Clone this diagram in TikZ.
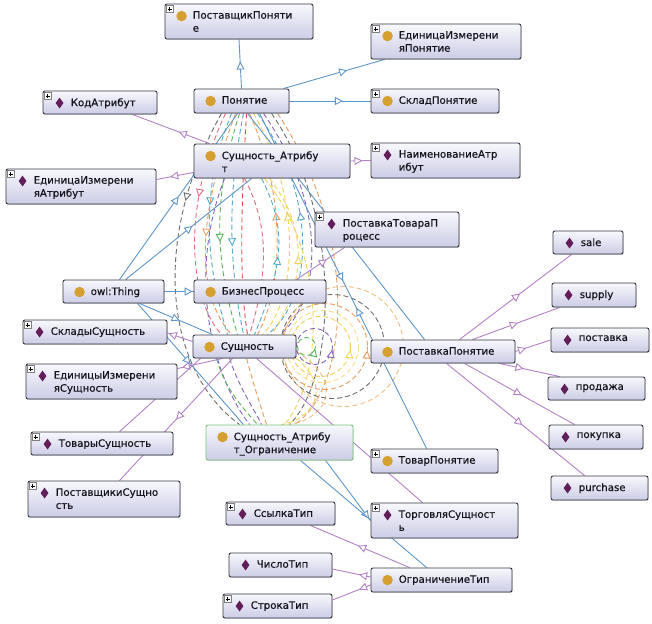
\documentclass[tikz,border=0pt]{standalone}
\usepackage{fontspec}
\setmainfont{DejaVu Sans}
\newfontfamily\lblfont{DejaVu Sans}[FakeBold=0.5]
\usetikzlibrary{arrows.meta,calc,shapes.geometric,shadows,decorations.markings}
\pgfdeclarelayer{bg}
\pgfsetlayers{bg,main}
\definecolor{bluec}{RGB}{95,150,200}
\definecolor{purpc}{RGB}{178,130,198}
\definecolor{nodeborder}{RGB}{55,55,68}
\definecolor{boxtop}{RGB}{248,248,253}
\definecolor{boxbot}{RGB}{204,204,230}
\definecolor{goldc}{RGB}{214,160,48}
\definecolor{diamc}{RGB}{98,30,88}
\definecolor{greenb}{RGB}{120,200,120}
\definecolor{textc}{RGB}{20,20,28}
\definecolor{dorange}{RGB}{235,155,95}
\definecolor{dyellow}{RGB}{240,210,90}
\definecolor{dgreen}{RGB}{90,180,90}
\definecolor{dpurple}{RGB}{130,100,190}
\definecolor{dgray}{RGB}{110,110,110}
\definecolor{dpink}{RGB}{230,110,130}
\definecolor{dteal}{RGB}{80,170,200}
\definecolor{dlorange}{RGB}{240,190,130}
\definecolor{dred}{RGB}{220,80,80}
\tikzset{
  box/.style={rectangle, rounded corners=2pt, draw=nodeborder, line width=0.9pt,
    top color=boxtop, bottom color=boxbot, inner sep=0pt,
    drop shadow={shadow xshift=0.7pt, shadow yshift=-0.9pt, opacity=0.35}},
  clsicon/.style={circle, fill=goldc, minimum size=10.5pt, inner sep=0pt},
  indicon/.style={diamond, fill=diamc, minimum width=8pt, minimum height=11pt, inner sep=0pt, aspect=0.72},
  lbl/.style={anchor=north west, inner sep=0pt, align=left, font=\lblfont\fontsize{10.2}{13}\selectfont, text=textc},
  plusbox/.style={rectangle, draw=gray, fill=white, line width=0.5pt, minimum size=7pt, inner sep=0pt,
    path picture={\draw[black, line width=0.6pt]
      ([xshift=-2pt]path picture bounding box.center) -- ([xshift=2pt]path picture bounding box.center)
      ([yshift=-2pt]path picture bounding box.center) -- ([yshift=2pt]path picture bounding box.center);}},
  bedge/.style={draw=bluec, line width=0.9pt},
  pedge/.style={draw=purpc, line width=0.9pt},
  dedge/.style={line width=0.9pt, dash pattern=on 5pt off 3pt},
  tri/.style={postaction={decorate, decoration={markings, mark=at position #1 with {\arrow{Triangle[length=8pt,width=8pt,fill=white]}}}}},
  trirev/.style={postaction={decorate, decoration={markings, mark=at position #1 with {\arrowreversed{Triangle[length=8pt,width=8pt,fill=white]}}}}},
}
% #1 name, #2 x1, #3 y1, #4 x2, #5 y2, #6 icon style, #7 plus flag, #8 text, #9 extra box style
\newcommand{\obox}[9]{%
  \pgfmathsetmacro{\oboxw}{#4-#2}%
  \pgfmathsetmacro{\oboxh}{#5-#3}%
  \node[box, minimum width=\oboxw pt, minimum height=\oboxh pt, #9] (#1) at ({(#2+#4)/2},{(#3+#5)/2}) {};
  \node[#6] (#1-i) at ($(#1.north west)+(17,12.5)$) {};
  \node[lbl] (#1-t) at ($(#1.north west)+(28,7.5)$) {#8};
  \ifnum#7=1 \node[plusbox] (#1-p) at ($(#1.north west)+(5,5.5)$) {};\fi
}
\begin{document}
\begin{tikzpicture}[x=1pt,y=-1pt]
\useasboundingbox (0,0) rectangle (652,623);
% ---------- nodes ----------
\obox{PP}{165}{4}{313}{39}{clsicon}{1}{ПоставщикПоняти\\е}{}
\obox{EIP}{371}{24}{521}{59}{clsicon}{1}{ЕдиницаИзмерени\\яПонятие}{}
\obox{Pon}{194}{89}{289}{113}{clsicon}{0}{Понятие}{}
\obox{Kod}{43}{91}{157}{114}{indicon}{1}{КодАтрибут}{}
\obox{Sklad}{371}{89}{499}{113}{clsicon}{1}{СкладПонятие}{}
\obox{SA}{194}{144}{350}{178}{clsicon}{0}{Сущность\_Атрибу\\т}{}
\obox{Naim}{371}{143}{520}{178}{indicon}{1}{НаименованиеАтр\\ибут}{}
\obox{EIA}{6}{169}{156}{204}{indicon}{1}{ЕдиницаИзмерени\\яАтрибут}{}
\obox{PTP}{315}{212}{459}{247}{indicon}{1}{ПоставкаТовараП\\роцесс}{}
\obox{Thing}{63}{280}{164}{303}{clsicon}{0}{owl:Thing}{}
\obox{BP}{194}{280}{326}{303}{clsicon}{0}{БизнесПроцесс}{}
\obox{Sklady}{23}{320}{167}{344}{indicon}{1}{СкладыСущность}{}
\obox{Sush}{193}{335}{296}{358}{clsicon}{0}{Сущность}{}
\obox{EIS}{26}{364}{177}{399}{indicon}{1}{ЕдиницыИзмерени\\яСущность}{}
\obox{PostP}{371}{340}{515}{363}{clsicon}{0}{ПоставкаПонятие}{}
\obox{sale}{553}{231}{623}{254}{indicon}{0}{sale}{}
\obox{supply}{552}{283}{636}{307}{indicon}{0}{supply}{}
\obox{postavka}{551}{328}{649}{352}{indicon}{0}{поставка}{}
\obox{prodazha}{548}{377}{645}{400}{indicon}{0}{продажа}{}
\obox{pokupka}{549}{425}{643}{449}{indicon}{0}{покупка}{}
\obox{purchase}{551}{476}{648}{500}{indicon}{0}{purchase}{}
\obox{Tovary}{31}{432}{173}{455}{indicon}{1}{ТоварыСущность}{}
\obox{SAO}{206}{425}{353}{460}{clsicon}{0}{Сущность\_Атрибу\\т\_Ограничение}{draw=greenb}
\obox{Postavshiki}{28}{481}{180}{517}{indicon}{1}{ПоставщикиСущно\\сть}{}
\obox{TovarP}{371}{449}{498}{473}{clsicon}{1}{ТоварПонятие}{}
\obox{Ssylka}{226}{502}{335}{525}{indicon}{1}{СсылкаТип}{}
\obox{Torg}{371}{503}{518}{538}{indicon}{1}{ТорговляСущност\\ь}{}
\obox{Chislo}{229}{553}{332}{577}{indicon}{0}{ЧислоТип}{}
\obox{OgrT}{371}{568}{512}{592}{clsicon}{0}{ОграничениеТип}{}
\obox{Stroka}{223}{594}{332}{618}{indicon}{1}{СтрокаТип}{}
% ---------- connectors ----------
\begin{pgfonlayer}{bg}
\fill[white] (0,0) rectangle (652,623);
% dashed relation curves
\draw[dedge, dgray, tri=0.28] ($(Pon.south west)+(28,0)$) .. controls (150,240) and (165,370) .. ($(SAO.north west)+(34,0)$);
\draw[dedge, dpink, tri=0.38] ($(Pon.south west)+(32,0)$) .. controls (180,210) and (190,300) .. ($(Sush.north west)+(29,0)$);
\draw[dedge, dteal, tri=0.42] ($(Pon.south west)+(38,0)$) .. controls (200,190) and (205,260) .. ($(Sush.north west)+(35,0)$);
\draw[dedge, dorange, tri=0.55] ($(Pon.south west)+(42,0)$) .. controls (192,230) and (200,300) .. ($(Sush.north west)+(39,0)$);
\draw[dedge, dgreen, tri=0.58] ($(Pon.south west)+(46,0)$) .. controls (212,200) and (215,260) .. ($(Sush.north west)+(45,0)$);
\draw[dedge, dteal, tri=0.6] ($(Pon.south west)+(50,0)$) .. controls (226,200) and (230,270) .. ($(Sush.north west)+(51,0)$);
\draw[dedge, dpurple] ($(SA.south west)+(31,0)$) .. controls (185,280) and (215,380) .. ($(SAO.north west)+(44,0)$);
\draw[dedge, dred] ($(Pon.south west)+(53,0)$) .. controls (240,220) and (240,290) .. ($(Sush.north west)+(55,0)$);
\draw[dedge, dorange, trirev=0.45] ($(Pon.south west)+(56,0)$) .. controls (288,200) and (282,290) .. ($(Sush.north west)+(65,0)$);
\draw[dedge, dyellow, trirev=0.45] ($(Pon.south west)+(60,0)$) .. controls (303,200) and (297,300) .. ($(Sush.north west)+(70,0)$);
\draw[dedge, dteal, trirev=0.45] ($(Pon.south west)+(64,0)$) .. controls (320,200) and (312,300) .. ($(Sush.north west)+(75,0)$);
\draw[dedge, dteal, trirev=0.5] ($(SA.south west)+(68,0)$) .. controls (288,230) and (283,265) .. ($(Sush.north west)+(62,0)$);
\draw[dedge, dyellow, trirev=0.5] ($(SA.south west)+(76,0)$) .. controls (310,230) and (305,285) .. ($(Sush.north west)+(79,0)$);
\draw[dedge, dgray] ($(Pon.south west)+(78,0)$) .. controls (345,220) and (335,380) .. ($(SAO.north west)+(84,0)$);
\draw[dedge, dorange] ($(Pon.south west)+(84,0)$) .. controls (362,240) and (348,390) .. ($(SAO.north west)+(89,0)$);
\draw[dedge, dyellow] ($(SA.south west)+(71,0)$) .. controls (330,260) and (322,380) .. ($(SAO.north west)+(79,0)$);
\draw[dedge, dpink] ($(SA.south west)+(51,0)$) .. controls (272,230) and (266,280) .. ($(Sush.north west)+(57,0)$);
\draw[dedge, dpurple] ($(Pon.south west)+(70,0)$) .. controls (330,210) and (320,300) .. ($(Sush.north west)+(88,0)$);
\draw[dedge, dgreen] ($(Sush.south west)+(24,0)$) .. controls (225,390) and (245,410) .. ($(SAO.north west)+(52,0)$);
\draw[dedge, dpurple] ($(Sush.south west)+(37,0)$) .. controls (240,390) and (255,410) .. ($(SAO.north west)+(56,0)$);
\draw[dedge, dorange] ($(Sush.south west)+(54,0)$) .. controls (255,390) and (262,410) .. ($(SAO.north west)+(61,0)$);
\draw[dedge, dyellow] (Sush.south east) .. controls (335,390) and (310,420) .. ($(SAO.north west)+(76,0)$);
\draw[dedge, dlorange] ($(Sush.east)+(0,5)$) .. controls (350,385) and (322,420) .. ($(SAO.north west)+(84,0)$);
% self loops on Сущность
\draw[dedge, dgreen, trirev=0.04] ($(Sush.east)+(19,0)$) arc[start angle=0, end angle=360, radius=9];
\draw[dedge, dpurple, trirev=0.03] ($(Sush.east)+(36,0)$) arc[start angle=0, end angle=360, radius=18];
\draw[dedge, dyellow, trirev=0.02] ($(Sush.east)+(54,0)$) arc[start angle=0, end angle=360, radius=30];
\draw[dedge, dyellow!70!white] ($(Sush.east)+(62,0)$) arc[start angle=0, end angle=360, radius=36];
\draw[dedge, dorange, trirev=0.015] ($(Sush.east)+(71,0)$) arc[start angle=0, end angle=360, radius=43];
\draw[dedge, dgray] ($(Sush.east)+(88,0)$) arc[start angle=0, end angle=360, radius=52];
\draw[dedge, dlorange] ($(Sush.east)+(107,0)$) arc[start angle=0, end angle=360, radius=60];
% blue (subclass) connectors
\draw[bedge, tri=0.55] (Pon.north) -- (PP.south);
\draw[bedge, tri=0.63] ($(Pon.north east)+(-6,0)$) -- ($(EIP.south west)+(14,0)$);
\draw[bedge, tri=0.66] (Pon.east) -- (Sklad.west);
\draw[bedge, tri=0.97] (Thing.east) -- (BP.west);
\draw[bedge, tri=0.55] ($(Thing.south west)+(77,0)$) -- ($(Sush.north west)+(20,0)$);
\draw[bedge, tri=0.5] ($(Thing.north west)+(57,0)$) -- ($(Pon.south west)+(44,0)$);
\draw[bedge, tri=0.53] ($(Thing.north west)+(63,0)$) -- ($(SA.south west)+(58,0)$);
\draw[bedge, tri=0.5] ($(Thing.south west)+(75,0)$) -- ($(SAO.north west)+(38,0)$);
\draw[bedge, tri=0.97] ($(SAO.south west)+(120,0)$) -- (Torg.west);
\draw[bedge] ($(SAO.south west)+(95,0)$) -- ($(OgrT.north west)+(56,0)$);
\draw[bedge, tri=0.5, trirev=0.58] ($(Pon.south west)+(66,0)$) -- ($(TovarP.north west)+(56,0)$);
\draw[bedge] ($(Pon.south west)+(54,0)$) -- ($(PostP.north west)+(54,0)$);
% purple (individual) connectors
\draw[pedge, tri=0.4] ($(SA.north west)+(16,0)$) -- ($(Kod.south east)+(-25,0)$);
\draw[pedge, tri=0.63] ($(SA.south west)+(0,-6)$) -- ($(EIA.east)+(0,-7)$);
\draw[pedge, tri=0.6] (SA.east) -- (Naim.west);
\draw[pedge, tri=0.63] ($(BP.north east)+(-30,0)$) -- ($(PTP.south west)+(30,0)$);
\draw[pedge, tri=0.95] ($(Sush.west)+(0,-5)$) -- ($(Sklady.east)+(0,1)$);
\draw[pedge, tri=0.9] ($(Sush.south west)+(30,0)$) -- ($(EIS.north east)+(0,5)$);
\draw[pedge] ($(Sush.south west)+(8,0)$) -- ($(Tovary.north west)+(89,0)$);
\draw[pedge, tri=0.5] ($(Sush.south west)+(40,0)$) -- ($(Postavshiki.north west)+(92,0)$);
\draw[pedge] ($(Sush.south west)+(64,0)$) -- ($(Torg.north west)+(52,0)$);
\draw[pedge, tri=0.54] ($(PostP.north west)+(89,0)$) -- ($(sale.south west)+(19,0)$);
\draw[pedge, tri=0.52] ($(PostP.north west)+(102,0)$) -- ($(supply.south west)+(8,0)$);
\draw[pedge, tri=0.3] (PostP.east) -- (postavka.west);
\draw[pedge, tri=0.4] ($(PostP.south west)+(129,0)$) -- ($(prodazha.north west)+(12,0)$);
\draw[pedge, tri=0.52] ($(PostP.south west)+(94,0)$) -- ($(pokupka.north west)+(26,0)$);
\draw[pedge, tri=0.55] ($(PostP.south west)+(76,0)$) -- ($(purchase.north west)+(34,0)$);
\draw[pedge, tri=0.52] ($(OgrT.north west)+(39,0)$) -- ($(Ssylka.south east)+(-25,0)$);
\draw[pedge, tri=0.3] ($(OgrT.west)+(0,-3)$) -- ($(Chislo.east)+(0,4)$);
\draw[pedge, tri=0.3] ($(OgrT.west)+(0,5)$) -- ($(Stroka.east)+(0,-6)$);
\end{pgfonlayer}
\end{tikzpicture}
\end{document}
